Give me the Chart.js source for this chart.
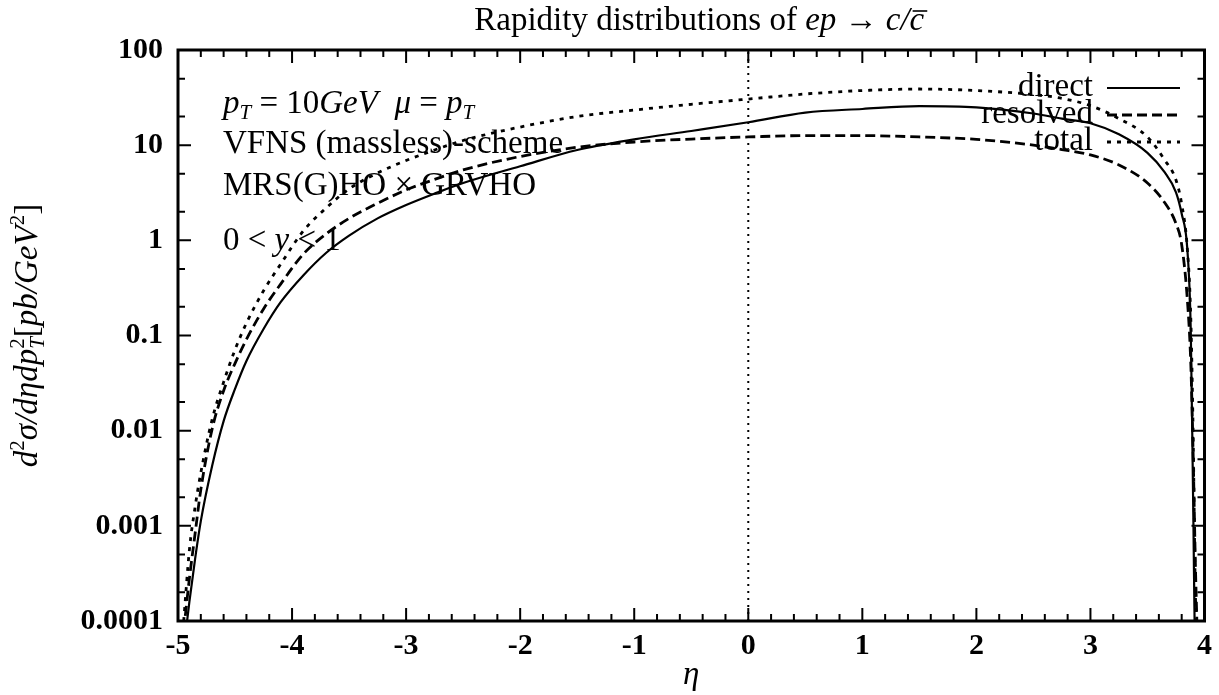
<!DOCTYPE html>
<html>
<head>
<meta charset="utf-8">
<script src="https://cdn.jsdelivr.net/npm/chart.js@4.4.0/dist/chart.umd.min.js"></script>
<style>
body { margin: 0; background: #fff; }
#wrap { width: 1219px; height: 695px; position: relative; }
</style>
</head>
<body>
<div id="wrap"><canvas id="myChart"></canvas></div>
<script>
// rapidity values (x)
const eta = [-4.95, -4.9, -4.85, -4.8, -4.7, -4.6, -4.5, -4.4, -4.25, -4.1, -3.9, -3.7, -3.5, -3.25, -3.0, -2.75, -2.5,
    -2.0, -1.5, -1.0, -0.5, 0, 0.5, 1.0, 1.5, 2.0, 2.5, 2.75, 3.0, 3.25, 3.5, 3.65, 3.75, 3.8, 3.85, 3.88, 3.9, 3.92, 3.94]

// cross sections, pb/GeV^2
const direct = [0.00005, 0.00016, 0.00045, 0.00112, 0.0043, 0.0126, 0.0275, 0.054, 0.117, 0.224, 0.43, 0.74, 1.12, 1.7, 2.35, 3.1, 4.0,
    6.0, 8.9, 11.5, 14.1, 17.4, 22, 24, 25.7, 25, 21.5, 19, 17, 13, 8.3, 5.2, 3.2, 1.9, 0.79, 0.107, 0.002, 0.00005, 0.00005]
const resolved = [0.000079, 0.00028, 0.00083, 0.0024, 0.0105, 0.0263, 0.051, 0.091, 0.19, 0.347, 0.72, 1.17, 1.7, 2.45, 3.39, 4.37, 5.5,
    7.6, 9.5, 10.8, 11.6, 12.2, 12.6, 12.6, 12.2, 11.5, 10.0, 9.0, 7.9, 6.2, 4.0, 2.5, 1.5, 0.9, 0.235, 0.05, 0.006, 0.0004, 0.00005]
const total = [0.0001, 0.00056, 0.00158, 0.0036, 0.0132, 0.0324, 0.0708, 0.135, 0.295, 0.562, 1.26, 2.19, 3.47, 5.1, 6.9, 8.9, 11.2,
    15.5, 20, 23.4, 26.9, 30.5, 34.5, 37.5, 38.9, 37.5, 34, 31, 26, 19, 12.2, 7.0, 4.3, 2.4, 0.8, 0.15, 0.01, 0.0002, 0.00005]

// dotted line at eta = 0
const zeroLineEta = [0, 0]
const zeroLineVal = [0.0001, 100]

// axes
const xTicks = [-5, -4, -3, -2, -1, 0, 1, 2, 3, 4]
const xTickLabels = ['-5', '-4', '-3', '-2', '-1', '0', '1', '2', '3', '4']
const yTicks = [0.0001, 0.001, 0.01, 0.1, 1, 10, 100]
const yTickLabels = ['0.0001', '0.001', '0.01', '0.1', '1', '10', '100']
const yMinorFactors = [2, 5]
const xMinorStep = 0.2

const seriesLabels = ['direct', 'resolved', 'total']

const SERIF = '"Liberation Serif", "Times New Roman", serif'

function font(style, size) {
    return `${style || 'normal'} ${size}px ${SERIF}`
}

// mixed roman / italic / sub / sup text
function richWidth(ctx, parts, size) {
    let w = 0
    for (const p of parts) {
        ctx.font = font(p.i ? 'italic' : 'normal', p.s || size)
        if (!p.stay) w += ctx.measureText(p.t).width
    }
    return w
}
function drawRich(ctx, parts, x, y, size, align) {
    let w = richWidth(ctx, parts, size)
    let cx = align === 'center' ? x - w / 2 : align === 'right' ? x - w : x
    ctx.textAlign = 'left'
    ctx.textBaseline = 'alphabetic'
    for (const p of parts) {
        ctx.font = font(p.i ? 'italic' : 'normal', p.s || size)
        ctx.fillText(p.t, cx, y + (p.dy || 0))
        const pw = ctx.measureText(p.t).width
        if (p.bar) {
            ctx.save()
            ctx.lineWidth = 1.6
            ctx.beginPath()
            ctx.moveTo(cx + 3, y - 19)
            ctx.lineTo(cx + pw + 3, y - 19)
            ctx.stroke()
            ctx.restore()
        }
        if (!p.stay) cx += pw
    }
}

const whiteBg = {
    id: 'whiteBg',
    beforeDraw(chart) {
        const c = chart.ctx
        c.save()
        c.fillStyle = '#fff'
        c.fillRect(0, 0, chart.width, chart.height)
        c.restore()
    }
}

// frame plus inward ticks on all four sides
const frameAndTicks = {
    id: 'frameAndTicks',
    afterDatasetsDraw(chart) {
        const { ctx, chartArea: a, scales: { x, y } } = chart
        ctx.save()
        ctx.strokeStyle = '#000'
        ctx.lineWidth = 2
        ctx.beginPath()
        for (let i = 0; i < xTicks.length; i++) {
            const px = x.getPixelForValue(xTicks[i])
            ctx.moveTo(px, a.bottom); ctx.lineTo(px, a.bottom - 13)
            ctx.moveTo(px, a.top); ctx.lineTo(px, a.top + 13)
            if (i < xTicks.length - 1) {
                for (let v = xTicks[i] + xMinorStep; v < xTicks[i + 1] - 1e-6; v += xMinorStep) {
                    const mx = x.getPixelForValue(v)
                    ctx.moveTo(mx, a.bottom); ctx.lineTo(mx, a.bottom - 7)
                    ctx.moveTo(mx, a.top); ctx.lineTo(mx, a.top + 7)
                }
            }
        }
        for (let i = 0; i < yTicks.length; i++) {
            const py = y.getPixelForValue(yTicks[i])
            ctx.moveTo(a.left, py); ctx.lineTo(a.left + 13, py)
            ctx.moveTo(a.right, py); ctx.lineTo(a.right - 13, py)
            if (i < yTicks.length - 1) {
                for (const f of yMinorFactors) {
                    const my = y.getPixelForValue(yTicks[i] * f)
                    ctx.moveTo(a.left, my); ctx.lineTo(a.left + 7, my)
                    ctx.moveTo(a.right, my); ctx.lineTo(a.right - 7, my)
                }
            }
        }
        ctx.stroke()
        ctx.lineWidth = 3
        ctx.strokeRect(a.left, a.top, a.right - a.left, a.bottom - a.top)
        ctx.restore()
    }
}

// title, y label, notes and key
const texts = {
    id: 'texts',
    afterDraw(chart) {
        const { ctx, chartArea: a } = chart
        ctx.save()
        ctx.fillStyle = '#000'
        ctx.strokeStyle = '#000'

        drawRich(ctx, [
            { t: 'Rapidity distributions of ' },
            { t: 'ep', i: true },
            { t: ' \u2192 ' },
            { t: 'c/', i: true },
            { t: 'c', i: true, bar: true }
        ], (a.left + a.right) / 2 + 8, 30, 33, 'center')

        // y axis label, rotated
        ctx.save()
        ctx.translate(37, (a.top + a.bottom) / 2)
        ctx.rotate(-Math.PI / 2)
        drawRich(ctx, [
            { t: 'd', i: true },
            { t: '2', s: 21, dy: -13 },
            { t: '\u03c3/d\u03b7dp', i: true },
            { t: '2', s: 21, dy: -13, stay: true },
            { t: 'T', i: true, s: 21, dy: 7 },
            { t: '[' },
            { t: 'pb/GeV', i: true },
            { t: '2', s: 21, dy: -13 },
            { t: ']' }
        ], 0, 0, 33, 'center')
        ctx.restore()

        const nx = a.left + 45
        drawRich(ctx, [
            { t: 'p', i: true }, { t: 'T', i: true, s: 21, dy: 6 },
            { t: ' = 10' }, { t: 'GeV', i: true },
            { t: '  \u03bc', i: true }, { t: ' = ' },
            { t: 'p', i: true }, { t: 'T', i: true, s: 21, dy: 6 }
        ], nx, 113, 33, 'left')
        drawRich(ctx, [{ t: 'VFNS (massless)-scheme' }], nx, 153, 33, 'left')
        drawRich(ctx, [{ t: 'MRS(G)HO \u00d7 GRVHO' }], nx, 195, 33, 'left')
        drawRich(ctx, [{ t: '0 < ' }, { t: 'y', i: true }, { t: ' < 1' }], nx, 250, 33, 'left')

        // key
        const keyY = [88, 115, 142]
        chart.data.datasets.slice(0, 3).forEach((ds, i) => {
            drawRich(ctx, [{ t: seriesLabels[i] }], 1093, keyY[i] + 8, 33, 'right')
            ctx.save()
            ctx.lineWidth = ds.borderWidth
            ctx.setLineDash(ds.borderDash || [])
            ctx.beginPath()
            ctx.moveTo(1107, keyY[i])
            ctx.lineTo(1180, keyY[i])
            ctx.stroke()
            ctx.restore()
        })
        ctx.restore()
    }
}

function points(xs, ys) {
    return xs.map((v, i) => ({ x: v, y: ys[i] }))
}

const lineBase = {
    showLine: true,
    borderColor: '#000',
    backgroundColor: '#000',
    pointRadius: 0,
    fill: false,
    cubicInterpolationMode: 'monotone'
}

const ctx = document.getElementById('myChart').getContext('2d')
const myChart = new Chart(ctx, {
    type: 'scatter',
    data: {
        datasets: [
            { ...lineBase, label: seriesLabels[0], data: points(eta, direct), borderWidth: 2.2, borderDash: [] },
            { ...lineBase, label: seriesLabels[1], data: points(eta, resolved), borderWidth: 2.8, borderDash: [10, 5] },
            { ...lineBase, label: seriesLabels[2], data: points(eta, total), borderWidth: 2.8, borderDash: [4, 6] },
            { ...lineBase, label: 'eta = 0', data: points(zeroLineEta, zeroLineVal), borderWidth: 2, borderDash: [2, 5],
              cubicInterpolationMode: 'default', tension: 0 }
        ]
    },
    options: {
        responsive: true,
        maintainAspectRatio: false,
        animation: false,
        events: [],
        layout: { padding: { left: 0, top: 50, right: 12, bottom: 0 } },
        plugins: {
            legend: { display: false },
            tooltip: { enabled: false },
            title: { display: false }
        },
        scales: {
            x: {
                type: 'linear',
                min: -5,
                max: 4,
                afterBuildTicks: (s) => { s.ticks = xTicks.map(v => ({ value: v })) },
                afterFit: (s) => { s.height = 74 },
                grid: { display: false, drawTicks: false },
                border: { display: false },
                ticks: {
                    color: '#000',
                    font: { family: SERIF, size: 30, weight: 'bold' },
                    padding: 7,
                    maxRotation: 0,
                    autoSkip: false,
                    callback: (v, i) => xTickLabels[i]
                },
                title: {
                    display: true,
                    text: '\u03b7',
                    color: '#000',
                    font: { family: SERIF, size: 33, style: 'italic' },
                    padding: 0
                }
            },
            y: {
                type: 'logarithmic',
                min: 0.0001,
                max: 100,
                afterBuildTicks: (s) => { s.ticks = yTicks.map(v => ({ value: v })) },
                afterFit: (s) => { s.width = 178 },
                grid: { display: false, drawTicks: false },
                border: { display: false },
                ticks: {
                    color: '#000',
                    font: { family: SERIF, size: 30, weight: 'bold' },
                    padding: 15,
                    autoSkip: false,
                    callback: (v, i) => yTickLabels[i]
                }
            }
        }
    },
    plugins: [whiteBg, frameAndTicks, texts]
})
</script>
</body>
</html>
